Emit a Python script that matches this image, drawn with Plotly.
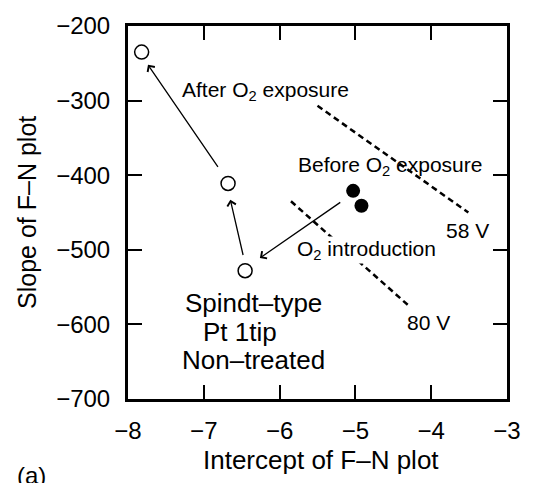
import plotly.graph_objects as go

# Data
open_x = [-7.82, -6.68, -6.455]
open_y = [-235, -411, -528]
filled_x = [-5.03, -4.92]
filled_y = [-421, -441]

# arrows: (x_start, y_start) -> (x_end, y_end)
arrow_x0 = [-6.80, -6.477, -5.18]
arrow_y0 = [-391, -509, -435]
arrow_x1 = [-7.736, -6.65, -6.26]
arrow_y1 = [-252, -433, -511]

# iso-voltage dashed lines
v58_x = [-5.5, -3.51]
v58_y = [-307, -450]
v80_x = [-5.85, -4.285]
v80_y = [-435, -576]

# text labels
label_text = ["After O<sub>2</sub> exposure", "Before O<sub>2</sub> exposure", "58 V",
              "O<sub>2</sub> introduction", "80 V"]
label_x = [-6.18, -4.55, -3.52, -4.86, -4.04]
label_y = [-287, -387, -474, -500, -598]

sample_text = ["Spindt\u2013type", "Pt 1tip", "Non\u2013treated"]
sample_x = [-6.35, -6.52, -6.35]
sample_y = [-571, -610, -648]

x_ticks = [-8, -7, -6, -5, -4, -3]
y_ticks = [-700, -600, -500, -400, -300, -200]

x_title = "Intercept of F\u2013N plot"
y_title = "Slope of F\u2013N plot"
panel_label = "(a)"

FONT = "Liberation Sans, Arial, sans-serif"

fig = go.Figure()
fig.add_trace(go.Scatter(x=v58_x, y=v58_y, mode="lines",
                         line=dict(color="black", width=2.5, dash="6px,4px"),
                         showlegend=False, hoverinfo="skip"))
fig.add_trace(go.Scatter(x=v80_x, y=v80_y, mode="lines",
                         line=dict(color="black", width=2.5, dash="6px,4px"),
                         showlegend=False, hoverinfo="skip"))
fig.add_trace(go.Scatter(x=open_x, y=open_y, mode="markers",
                         marker=dict(size=14, color="white",
                                     line=dict(color="black", width=1.5)),
                         showlegend=False))
fig.add_trace(go.Scatter(x=filled_x, y=filled_y, mode="markers",
                         marker=dict(size=14, color="black"),
                         showlegend=False))

for x0, y0, x1, y1 in zip(arrow_x0, arrow_y0, arrow_x1, arrow_y1):
    fig.add_annotation(x=x1, y=y1, ax=x0, ay=y0, xref="x", yref="y",
                       axref="x", ayref="y", text="", showarrow=True,
                       arrowhead=4, arrowsize=1.3, arrowwidth=1.3,
                       arrowcolor="black")

for t, x, y in zip(label_text, label_x, label_y):
    fig.add_annotation(x=x, y=y, text=t, showarrow=False,
                       font=dict(family=FONT, size=21, color="black"),
                       bgcolor="white" if t.startswith("O<sub>") else None,
                       borderpad=0)

for t, x, y in zip(sample_text, sample_x, sample_y):
    fig.add_annotation(x=x, y=y, text=t, showarrow=False,
                       font=dict(family=FONT, size=26, color="black"))

# axis titles and panel label
fig.add_annotation(x=0.508, y=-0.164, xref="paper", yref="paper", text=x_title,
                   showarrow=False, xanchor="center", yanchor="middle",
                   font=dict(family=FONT, size=26, color="black"))
fig.add_annotation(x=-0.268, y=0.5, xref="paper", yref="paper", text=y_title,
                   showarrow=False, xanchor="center", yanchor="middle",
                   textangle=-90,
                   font=dict(family=FONT, size=25, color="black"))
fig.add_annotation(x=-0.255, y=-0.206, xref="paper", yref="paper", text=panel_label,
                   showarrow=False, xanchor="center", yanchor="middle",
                   font=dict(family=FONT, size=24, color="black"))

axis_common = dict(showgrid=False, zeroline=False, showline=True, linewidth=3,
                   linecolor="black", mirror="ticks", ticks="inside",
                   ticklen=14, tickwidth=2, tickcolor="black",
                   tickfont=dict(family=FONT, size=24, color="black"))

fig.update_xaxes(range=[-8, -3], tickvals=x_ticks, ticklabelstandoff=8,
                 **axis_common)
fig.update_yaxes(range=[-700, -200], tickvals=y_ticks, ticklabelstandoff=10,
                 **axis_common)

fig.update_layout(width=533, height=483,
                  margin=dict(l=128, r=21, t=15, b=84),
                  plot_bgcolor="white", paper_bgcolor="white",
                  font=dict(family=FONT))

fig.write_html("out.html")
